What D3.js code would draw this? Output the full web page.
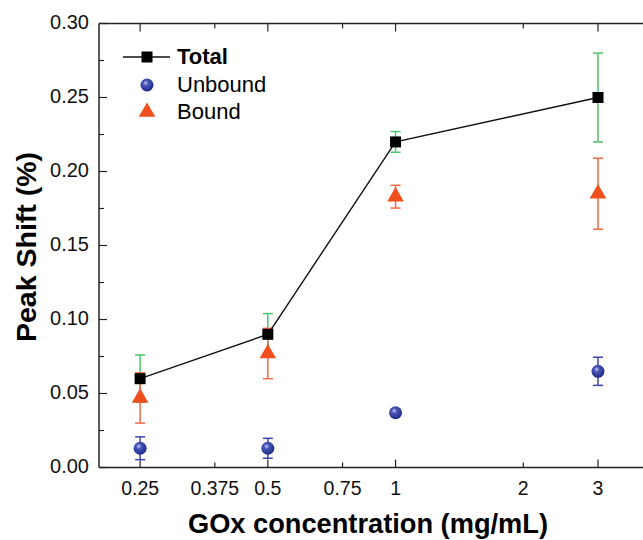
<!DOCTYPE html>
<html>
<head>
<meta charset="utf-8">
<script src="https://cdn.jsdelivr.net/npm/d3@7"></script>
<style>
  body { margin: 0; background: #fff; }
  svg { display: block; font-family: "Liberation Sans", Arial, sans-serif; }
</style>
</head>
<body>
<div class="chart"></div>
<script>
(function() {
  // data
  var conc = [0.25, 0.5, 1, 3];
  var total = [0.060, 0.090, 0.220, 0.250];
  var totalErr = [0.016, 0.014, 0.007, 0.030];
  var unbound = [0.013, 0.013, 0.037, 0.065];
  var unboundErr = [0.0077, 0.0067, 0.002, 0.0095];
  var bound = [0.047, 0.077, 0.183, 0.185];
  var boundErr = [0.017, 0.017, 0.0077, 0.024];
  var xTicks = [0.25, 0.375, 0.5, 0.75, 1, 2, 3];
  var xMajor = [0.25, 0.5, 1, 3];
  var yTicks = [0, 0.05, 0.10, 0.15, 0.20, 0.25, 0.30];
  var yMinor = [0.025, 0.075, 0.125, 0.175, 0.225, 0.275];

  var width = 643, height = 540,
    left = 99, top = 23.5, right = 651, bottom = 467.5;

  var svg = d3.select(".chart").append("svg")
    .attr("width", width)
    .attr("height", height);

  var x = d3.scaleLog().domain([0.2, 4]).range([left, right]);
  var y = d3.scaleLinear().domain([0, 0.30]).range([bottom, top]);

  var defs = svg.append("defs");
  var grad = defs.append("radialGradient").attr("id", "ball")
    .attr("cx", "40%").attr("cy", "35%").attr("r", "65%");
  grad.append("stop").attr("offset", "0%").attr("stop-color", "#c8cdf0");
  grad.append("stop").attr("offset", "30%").attr("stop-color", "#4a57b8");
  grad.append("stop").attr("offset", "100%").attr("stop-color", "#1e2a85");

  // axes frame
  var axisColor = "#222";
  svg.append("line").attr("x1", left).attr("x2", width).attr("y1", top).attr("y2", top)
    .attr("stroke", axisColor).attr("stroke-width", 1.5);
  svg.append("line").attr("x1", left).attr("x2", width).attr("y1", bottom).attr("y2", bottom)
    .attr("stroke", axisColor).attr("stroke-width", 1.5);
  svg.append("line").attr("x1", left).attr("x2", left).attr("y1", top).attr("y2", bottom)
    .attr("stroke", axisColor).attr("stroke-width", 1.5);

  // x ticks (bottom and top, inward)
  xTicks.forEach(function(t) {
    var len = xMajor.indexOf(t) >= 0 ? 8 : 5;
    svg.append("line").attr("x1", x(t)).attr("x2", x(t)).attr("y1", bottom).attr("y2", bottom - len)
      .attr("stroke", axisColor).attr("stroke-width", 1.2);
    svg.append("line").attr("x1", x(t)).attr("x2", x(t)).attr("y1", top).attr("y2", top + len)
      .attr("stroke", axisColor).attr("stroke-width", 1.2);
    svg.append("text").attr("x", x(t)).attr("y", bottom + 27)
      .attr("text-anchor", "middle").attr("font-size", 19.5).attr("fill", "#111")
      .text(String(t));
  });

  // y ticks
  yTicks.forEach(function(t) {
    svg.append("line").attr("x1", left).attr("x2", left + 8).attr("y1", y(t)).attr("y2", y(t))
      .attr("stroke", axisColor).attr("stroke-width", 1.2);
    svg.append("text").attr("x", left - 10).attr("y", y(t) + 5.5)
      .attr("text-anchor", "end").attr("font-size", 20).attr("fill", "#111")
      .text(d3.format(".2f")(t));
  });
  yMinor.forEach(function(t) {
    svg.append("line").attr("x1", left).attr("x2", left + 5).attr("y1", y(t)).attr("y2", y(t))
      .attr("stroke", axisColor).attr("stroke-width", 1.2);
  });

  // titles
  svg.append("text").attr("x", 368).attr("y", 533)
    .attr("text-anchor", "middle").attr("font-size", 27).attr("font-weight", "bold")
    .attr("textLength", 360).attr("lengthAdjust", "spacingAndGlyphs")
    .text("GOx concentration (mg/mL)");
  svg.append("text").attr("transform", "translate(36,247) rotate(-90)")
    .attr("text-anchor", "middle").attr("font-size", 27).attr("font-weight", "bold")
    .attr("textLength", 190).attr("lengthAdjust", "spacingAndGlyphs")
    .text("Peak Shift (%)");

  function errorBars(vals, errs, color) {
    var g = svg.append("g").attr("stroke", color).attr("stroke-width", 1.5);
    conc.forEach(function(c, i) {
      var cx = x(c), y1 = y(vals[i] + errs[i]), y2 = y(vals[i] - errs[i]);
      g.append("line").attr("x1", cx).attr("x2", cx).attr("y1", y1).attr("y2", y2);
      g.append("line").attr("x1", cx - 5).attr("x2", cx + 5).attr("y1", y1).attr("y2", y1);
      g.append("line").attr("x1", cx - 5).attr("x2", cx + 5).attr("y1", y2).attr("y2", y2);
    });
  }

  errorBars(total, totalErr, "#4cc36a");
  errorBars(unbound, unboundErr, "#3a46a8");
  errorBars(bound, boundErr, "#f06a48");

  // total line
  var line = d3.line().x(function(d, i) { return x(conc[i]); }).y(function(d) { return y(d); });
  svg.append("path").datum(total).attr("d", line)
    .attr("fill", "none").attr("stroke", "#111").attr("stroke-width", 1.4);

  var tri = d3.symbol().type(d3.symbolTriangle).size(120);
  function triangle(g, cx, cy) {
    g.append("path").attr("d", tri()).attr("transform", "translate(" + cx + "," + cy + ")")
      .attr("fill", "#f0501e");
  }
  function ball(g, cx, cy) {
    g.append("circle").attr("cx", cx).attr("cy", cy).attr("r", 6.5).attr("fill", "url(#ball)");
  }
  function square(g, cx, cy) {
    g.append("rect").attr("x", cx - 5.5).attr("y", cy - 5.5).attr("width", 11).attr("height", 11)
      .attr("fill", "#000");
  }

  var marks = svg.append("g");
  conc.forEach(function(c, i) { ball(marks, x(c), y(unbound[i])); });
  conc.forEach(function(c, i) { square(marks, x(c), y(total[i])); });
  conc.forEach(function(c, i) { triangle(marks, x(c), y(bound[i])); });

  // legend
  var lg = svg.append("g");
  lg.append("line").attr("x1", 123).attr("x2", 170).attr("y1", 57).attr("y2", 57)
    .attr("stroke", "#111").attr("stroke-width", 1.4);
  square(lg, 147, 57);
  lg.append("text").attr("x", 177).attr("y", 64).attr("font-size", 22).attr("font-weight", "bold").text("Total");
  ball(lg, 147, 85);
  lg.append("text").attr("x", 177).attr("y", 91.5).attr("font-size", 22).text("Unbound");
  triangle(lg, 147, 112);
  lg.append("text").attr("x", 177).attr("y", 119).attr("font-size", 22).text("Bound");
})();
</script>
</body>
</html>
